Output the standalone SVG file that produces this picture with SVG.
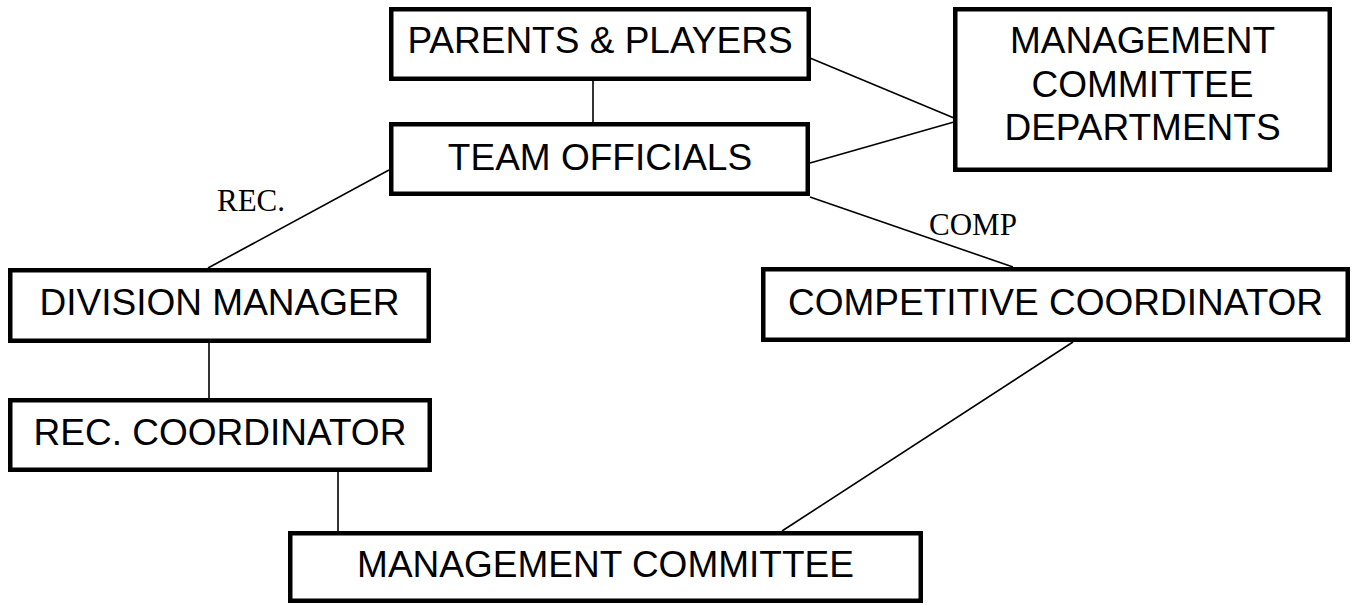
<svg xmlns="http://www.w3.org/2000/svg" width="1354" height="605" viewBox="0 0 1354 605">
<style>
  .box { fill: #fff; stroke: #000; stroke-width: 4.5; }
  .t { font-family: "Liberation Sans", Arial, sans-serif; font-size: 37px; fill: #000; text-anchor: middle; }
  .lbl { font-family: "Liberation Serif", "Times New Roman", serif; font-size: 31px; fill: #000; }
  .c line { stroke: #000; stroke-width: 1.6; }
</style>
<rect width="1354" height="605" fill="#fff"/>
<g class="c" id="connectors">
  <line x1="593" y1="81" x2="593" y2="122"/>
  <line x1="810" y1="58" x2="954" y2="118"/>
  <line x1="810" y1="163" x2="954" y2="122"/>
  <line x1="389" y1="170" x2="208" y2="268"/>
  <line x1="810" y1="197" x2="1013" y2="267"/>
  <line x1="209" y1="343" x2="209" y2="398"/>
  <line x1="338" y1="472" x2="338" y2="531"/>
  <line x1="1073" y1="342" x2="782" y2="531"/>
  <text class="lbl" x="217" y="211">REC.</text>
  <text class="lbl" x="929" y="235">COMP</text>
</g>
<g id="parents-players">
  <rect class="box" x="391.25" y="9.25" width="417.5" height="69.5"/>
  <text class="t" x="600" y="53">PARENTS &amp; PLAYERS</text>
</g>
<g id="team-officials">
  <rect class="box" x="391.25" y="124.25" width="416.5" height="69.5"/>
  <text class="t" x="600" y="170">TEAM OFFICIALS</text>
</g>
<g id="mc-departments">
  <rect class="box" x="955.25" y="9.25" width="374.5" height="160.5"/>
  <text class="t" x="1142.5" y="53">MANAGEMENT</text>
  <text class="t" x="1142.5" y="97">COMMITTEE</text>
  <text class="t" x="1142.5" y="140">DEPARTMENTS</text>
</g>
<g id="division-manager">
  <rect class="box" x="10.25" y="270.25" width="418.5" height="70.5"/>
  <text class="t" x="219.5" y="315">DIVISION MANAGER</text>
</g>
<g id="rec-coordinator">
  <rect class="box" x="10.25" y="400.25" width="419.5" height="69.5"/>
  <text class="t" x="220" y="445">REC. COORDINATOR</text>
</g>
<g id="competitive-coordinator">
  <rect class="box" x="763.25" y="269.25" width="584.5" height="70.5"/>
  <text class="t" x="1055.5" y="315">COMPETITIVE COORDINATOR</text>
</g>
<g id="management-committee">
  <rect class="box" x="290.25" y="533.25" width="630.5" height="67.5"/>
  <text class="t" x="605.5" y="577">MANAGEMENT COMMITTEE</text>
</g>
</svg>
